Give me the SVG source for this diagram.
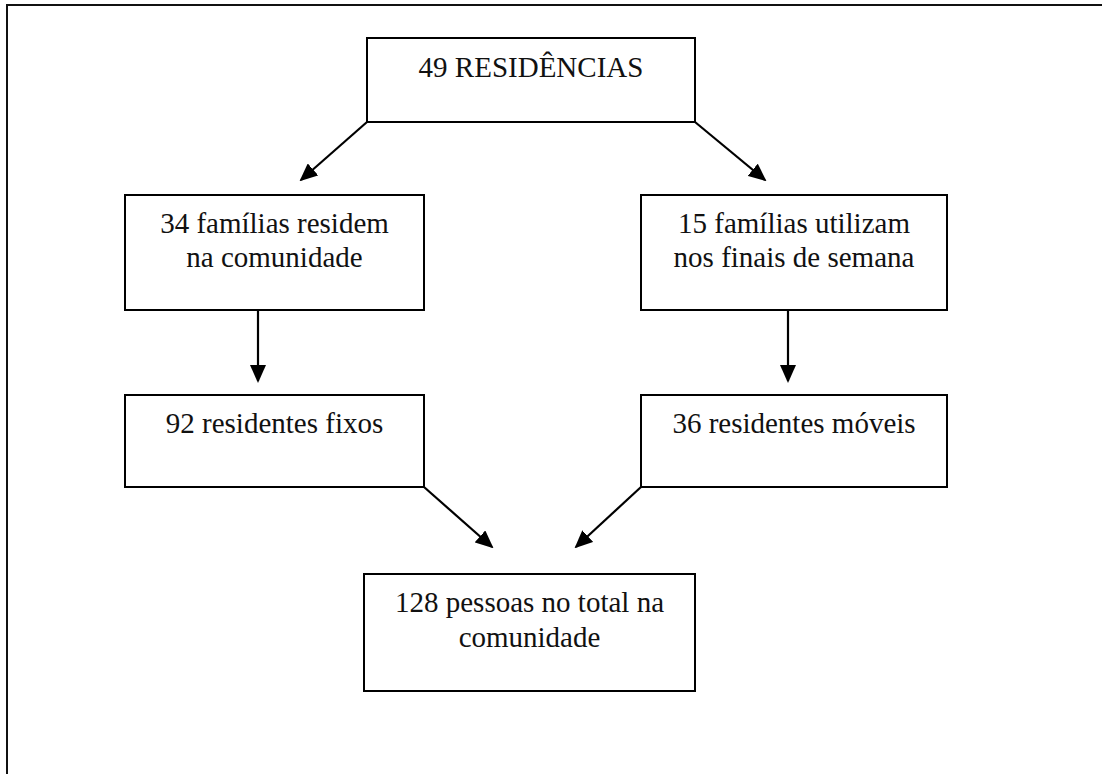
<svg xmlns="http://www.w3.org/2000/svg" width="1102" height="774" viewBox="0 0 1102 774">
  <style>
    .box { fill: #ffffff; stroke: #000000; stroke-width: 2; }
    .lbl { font-size: 29px; fill: #111111; text-anchor: middle; }
    .conn { stroke: #000000; stroke-width: 2.2; fill: none; marker-end: url(#arrow); }
  </style>
  <defs>
    <marker id="arrow" viewBox="0 0 18 16" markerWidth="18" markerHeight="16" refX="16" refY="8" orient="auto" markerUnits="userSpaceOnUse">
      <path d="M0,0 L18,8 L0,16 z" fill="#000000"/>
    </marker>
  </defs>
  <rect x="0" y="0" width="1102" height="774" fill="#ffffff"/>
  <path d="M7,774 L7,5 L1102,5" fill="none" stroke="#111111" stroke-width="2"/>

  <g id="connectors">
    <line class="conn" x1="367" y1="122" x2="301" y2="180"/>
    <line class="conn" x1="695" y1="122" x2="765" y2="180"/>
    <line class="conn" x1="258" y1="310" x2="258" y2="381"/>
    <line class="conn" x1="788" y1="310" x2="788" y2="381"/>
    <line class="conn" x1="424" y1="487" x2="492" y2="547"/>
    <line class="conn" x1="641" y1="487" x2="576" y2="547"/>
  </g>

  <g font-family="Liberation Serif, Times New Roman, DejaVu Serif, serif">
  <g id="n-residencias">
    <rect class="box" x="367" y="38" width="328" height="84"/>
    <text class="lbl" x="531" y="77">49 RESIDÊNCIAS</text>
  </g>
  <g id="n-familias-residem">
    <rect class="box" x="125" y="195" width="299" height="115"/>
    <text class="lbl" x="274.5" y="233">34 famílias residem</text>
    <text class="lbl" x="274.5" y="267">na comunidade</text>
  </g>
  <g id="n-familias-utilizam">
    <rect class="box" x="641" y="195" width="306" height="115"/>
    <text class="lbl" x="794" y="233">15 famílias utilizam</text>
    <text class="lbl" x="794" y="267">nos finais de semana</text>
  </g>
  <g id="n-fixos">
    <rect class="box" x="125" y="395" width="299" height="92"/>
    <text class="lbl" x="274.5" y="433">92 residentes fixos</text>
  </g>
  <g id="n-moveis">
    <rect class="box" x="641" y="395" width="306" height="92"/>
    <text class="lbl" x="794" y="433">36 residentes móveis</text>
  </g>
  <g id="n-total">
    <rect class="box" x="364" y="574" width="331" height="117"/>
    <text class="lbl" x="529.5" y="612">128 pessoas no total na</text>
    <text class="lbl" x="529.5" y="647">comunidade</text>
  </g>
  </g>
</svg>
